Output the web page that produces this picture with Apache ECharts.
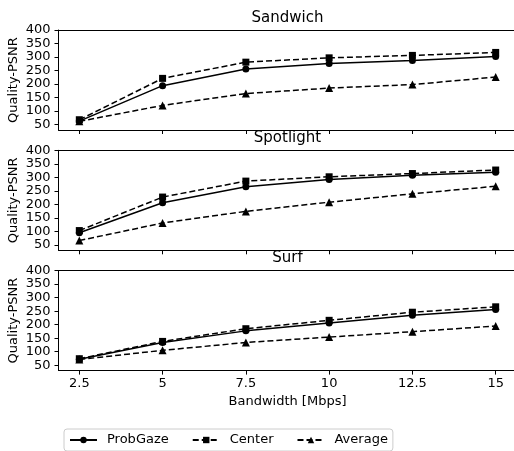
<!DOCTYPE html>
<html>
<head>
<meta charset="utf-8">
<script src="https://cdn.jsdelivr.net/npm/echarts@6/dist/echarts.min.js"></script>
<style>html,body{margin:0;padding:0;background:#fff;}#c{width:514px;height:451px;}</style>
</head>
<body>
<div id="c"></div>
<script>
const bandwidth = [2.5, 5, 7.5, 10, 12.5, 15];
const xTickLabels = ['2.5', '5', '7.5', '10', '12.5', '15'];
const yTicks = [50, 100, 150, 200, 250, 300, 350, 400];
const panels = ['Sandwich', 'Spotlight', 'Surf'];
const seriesNames = ['ProbGaze', 'Center', 'Average'];

const sandwichProbGaze = [63, 194, 256, 276, 287, 302];
const sandwichCenter   = [68, 221, 281, 297, 306, 317];
const sandwichAverage  = [62, 121, 165, 185, 198, 226];

const spotlightProbGaze = [95, 206, 265, 292, 308, 319];
const spotlightCenter   = [103, 227, 286, 302, 314, 327];
const spotlightAverage  = [66, 131, 174, 208, 239, 267];

const surfProbGaze = [72, 134, 177, 206, 235, 256];
const surfCenter   = [74, 138, 185, 216, 246, 266];
const surfAverage  = [71, 105, 134, 154, 174, 195];

const panelData = [
  [sandwichProbGaze, sandwichCenter, sandwichAverage],
  [spotlightProbGaze, spotlightCenter, spotlightAverage],
  [surfProbGaze, surfCenter, surfAverage]
];

const FONT = 'DejaVu Sans';
const gridTops = [30, 150.3, 270.6];
const symbols = ['circle', 'rect', 'triangle'];
const symbolSizes = [7, 7, 8];
const lineTypes = ['solid', [6, 3], [6, 3]];

const grids = [], xAxes = [], yAxes = [], titles = [], series = [];
panels.forEach((p, i) => {
  grids.push({
    left: 58.5, top: gridTops[i], width: 458, height: 100,
    show: false, outerBoundsMode: 'none', containLabel: false
  });
  titles.push({
    text: p, left: 287.5, top: [9, 129, 249.3][i], textAlign: 'center', padding: 0,
    textStyle: { fontFamily: FONT, fontSize: 15, fontWeight: 'normal', color: '#000', lineHeight: 18 }
  });
  xAxes.push({
    type: 'value', gridIndex: i, min: 1.875, max: 15.625, position: 'bottom',
    axisLine: { show: true, onZero: false, lineStyle: { color: '#000', width: 1 } },
    splitLine: { show: false },
    axisTick: { show: true, length: 4, inside: false, customValues: bandwidth, lineStyle: { color: '#000', width: 1 } },
    axisLabel: {
      show: i === 2, customValues: bandwidth, margin: 7,
      fontFamily: FONT, fontSize: 13, color: '#000',
      formatter: v => xTickLabels[bandwidth.indexOf(v)] !== undefined ? xTickLabels[bandwidth.indexOf(v)] : String(v)
    },
    name: i === 2 ? 'Bandwidth [Mbps]' : '',
    nameLocation: 'middle', nameGap: 25, nameMoveOverlap: false,
    nameTextStyle: { fontFamily: FONT, fontSize: 13, color: '#000' }
  });
  // top spine
  xAxes.push({
    type: 'value', gridIndex: i, min: 1.875, max: 15.625, position: 'top',
    axisLine: { show: true, onZero: false, lineStyle: { color: '#000', width: 1 } },
    splitLine: { show: false }, axisTick: { show: false }, axisLabel: { show: false }
  });
  yAxes.push({
    type: 'value', gridIndex: i, min: 30, max: 400, position: 'left',
    axisLine: { show: true, onZero: false, lineStyle: { color: '#000', width: 1 } },
    splitLine: { show: false },
    axisTick: { show: true, length: 4, inside: false, customValues: yTicks, lineStyle: { color: '#000', width: 1 } },
    axisLabel: { customValues: yTicks, margin: 8, fontFamily: FONT, fontSize: 13, color: '#000' },
    name: 'Quality-PSNR', nameLocation: 'middle', nameGap: 38, nameMoveOverlap: false,
    nameTextStyle: { fontFamily: FONT, fontSize: 13, color: '#000' }
  });
  seriesNames.forEach((n, k) => {
    series.push({
      name: n, type: 'line', xAxisIndex: 2 * i, yAxisIndex: i,
      data: bandwidth.map((b, j) => [b, panelData[i][k][j]]),
      symbol: symbols[k], symbolSize: symbolSizes[k],
      showAllSymbol: true,
      itemStyle: { color: '#000' },
      lineStyle: { color: '#000', width: 1.5, type: lineTypes[k] },
      animation: false, silent: true
    });
  });
});

const chart = echarts.init(document.getElementById('c'), null, { renderer: 'canvas' });
chart.setOption({
  backgroundColor: '#fff',
  animation: false,
  title: titles,
  grid: grids,
  xAxis: xAxes,
  yAxis: yAxes,
  legend: {
    data: seriesNames, left: 64, top: 429, orient: 'horizontal',
    padding: [4, 5, 4, 5], itemGap: 23, itemWidth: 27, itemHeight: 8,
    borderColor: '#cccccc', borderWidth: 1, borderRadius: 3, backgroundColor: '#fff',
    textStyle: { fontFamily: FONT, fontSize: 13, color: '#000', lineHeight: 14, padding: [0, 0, 0, 5] },
    selectedMode: false
  },
  series: series
});
</script>
</body>
</html>
